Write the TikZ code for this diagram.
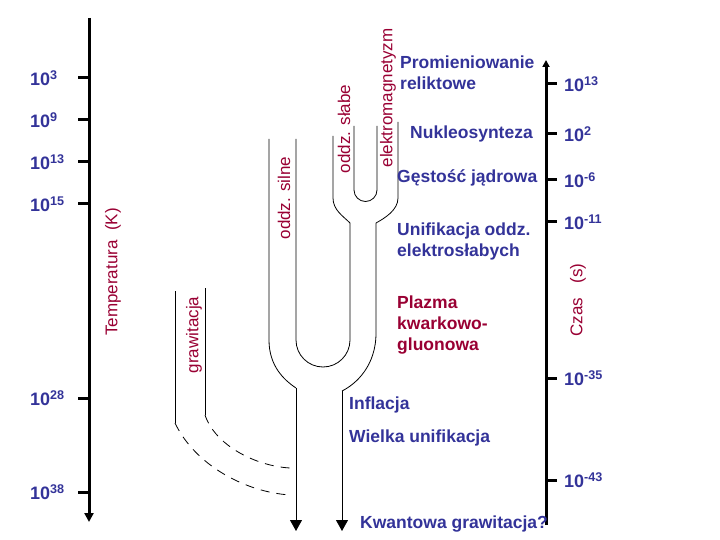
\documentclass[tikz,border=0pt]{standalone}
\usepackage{fontspec}
\setmainfont{Liberation Sans}
\usetikzlibrary{arrows.meta}
\definecolor{tblue}{HTML}{333399}
\definecolor{tred}{HTML}{990033}
\begin{document}
\begin{tikzpicture}[x=1pt,y=-1pt,
  lbl/.style={text=tblue,font=\fontsize{17.5}{21}\selectfont\bfseries,inner sep=0pt,anchor=west,align=left},
  rlbl/.style={text=tred,font=\fontsize{17.5}{21}\selectfont\bfseries,inner sep=0pt,anchor=west,align=left},
  vlbl/.style={text=tred,font=\fontsize{17}{20}\selectfont,inner sep=0pt,rotate=90},
  tk/.style={text=tblue,font=\fontsize{18}{20}\selectfont\bfseries,inner sep=0pt,anchor=west},
  axis/.style={line width=3pt},
  thin/.style={line width=0.8pt},
  arr/.style={thin,-{Triangle[width=12pt,length=11pt]}}]
\useasboundingbox (0,0) rectangle (720,540);
% left axis
\coordinate (la0) at (89,18); \coordinate (la1) at (89,522);
\draw[axis,-{Triangle[width=9pt,length=9pt]}] (la0) -- (la1);
\foreach \y/\t in {78/3,120/9,162/13,204/15,398/28,492/38}{
  \draw[axis] (78,\y) -- (89,\y);
  \node[tk] at (30,\y) {10\textsuperscript{\t}};
}
% right axis
\draw[axis,-{Triangle[width=7pt,length=7pt]}] (546,525) -- (546,60);
\foreach \y/\t in {84/13,134/2,180/-6,222/-11,378/-35,480/-43}{
  \draw[axis] (546,\y) -- (557,\y);
  \node[tk] at (564,\y) {10\textsuperscript{\t}};
}
% strong tube + big fork
\coordinate (s1) at (269,139); \coordinate (s2) at (296,139);
\draw[thin] (s1) -- (269,340) .. controls (269,366) and (284,380) .. (296,388);
\coordinate (ls) at (296,388);
\draw[arr] (ls) -- (296,531);
\draw[thin] (s2) -- (296,340) arc[start angle=180,end angle=0,radius=27] -- (350,223);
% electroweak
\coordinate (rs) at (342,391);
\draw[thin] (376,223) -- (376,333) .. controls (376,366) and (356,384) .. (rs);
\draw[arr] (rs) -- (342,531);
% weak / em fork
\draw[thin] (333,136) -- (333,198) .. controls (333,210) and (343,216) .. (350,223);
\draw[thin] (354,126) -- (354,190) arc[start angle=180,end angle=0,radius=11.5] -- (377,126);
\draw[thin] (398,122) -- (398,198) .. controls (398,210) and (385,218) .. (376,223);
% gravity
\draw[thin] (175,291) -- (175,423);
\draw[thin] (205,288) -- (205,415);
\draw[thin,dash pattern=on 9pt off 7pt] (205,415) .. controls (215,445) and (255,466) .. (290,468);
\draw[thin,dash pattern=on 9pt off 7pt] (175,423) .. controls (195,465) and (245,492) .. (290,495);
% vertical labels
\node[vlbl] (tk) at (113,272) {Temperatura\ \ (K)};
\node[vlbl] (gr) at (194,335) {grawitacja};
\node[vlbl] (si) at (284,198) {oddz. silne};
\node[vlbl] (sl) at (344,129) {oddz. słabe};
\node[vlbl] (em) at (388,98) {elektromagnetyzm};
\node[vlbl] (cz) at (578,300) {Czas\ \ \ (s)};
% event labels
\node[lbl] (p) at (400,73) {Promieniowanie\\reliktowe};
\node[lbl] (n) at (410,134) {Nukleosynteza};
\node[lbl] (g) at (397,178) {Gęstość jądrowa};
\node[lbl] (u) at (397,241) {Unifikacja oddz.\\elektrosłabych};
\node[rlbl] (pl) at (397,325) {Plazma\\kwarkowo-\\gluonowa};
\node[lbl] (i) at (349,405) {Inflacja};
\node[lbl] (w) at (349,438) {Wielka unifikacja};
\node[lbl] (k) at (360,524) {Kwantowa grawitacja?};
\end{tikzpicture}
\end{document}
